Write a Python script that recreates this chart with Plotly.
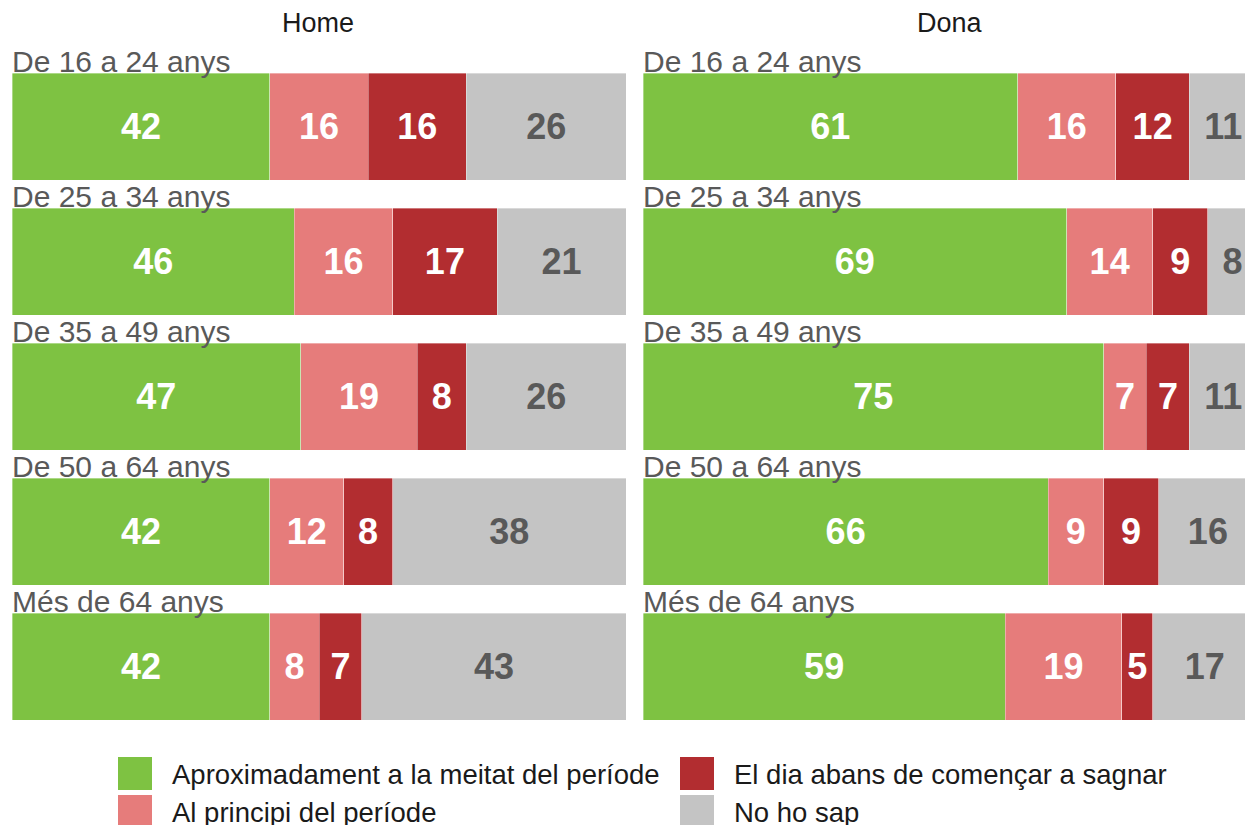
import plotly.graph_objects as go

ages = ["De 16 a 24 anys", "De 25 a 34 anys", "De 35 a 49 anys", "De 50 a 64 anys", "Més de 64 anys"]
panels = ["Home", "Dona"]
series = ["Aproximadament a la meitat del període", "Al principi del període",
          "El dia abans de començar a sagnar", "No ho sap"]
colors = ["#7EC242", "#E67C7B", "#B22D30", "#C4C4C4"]
text_colors = ["white", "white", "white", "#595959"]

home_meitat = [42, 46, 47, 42, 42]
home_principi = [16, 16, 19, 12, 8]
home_dia = [16, 17, 8, 8, 7]
home_nosap = [26, 21, 26, 38, 43]

dona_meitat = [61, 69, 75, 66, 59]
dona_principi = [16, 14, 7, 9, 19]
dona_dia = [12, 9, 7, 9, 5]
dona_nosap = [11, 8, 11, 16, 17]

data = {
    "Home": [home_meitat, home_principi, home_dia, home_nosap],
    "Dona": [dona_meitat, dona_principi, dona_dia, dona_nosap],
}

W, H = 1245, 825


def px(x):
    return x / W


def py(y):
    return 1 - y / H


LABEL_FONT = "Liberation Sans, Arial, sans-serif"
VALUE_FONT = "Liberation Sans, Arial, sans-serif"

fig = go.Figure()
axes = [("x", "y"), ("x2", "y2")]
for p, (xa, ya) in zip(panels, axes):
    for k, name in enumerate(series):
        vals = data[p][k]
        fig.add_trace(go.Bar(
            y=ages, x=vals, orientation="h", name=name,
            marker=dict(color=colors[k], line=dict(width=0.6, color="rgba(255,255,255,0.6)")),
            text=[str(v) for v in vals], textposition="inside", insidetextanchor="middle",
            textangle=0,
            textfont=dict(family=VALUE_FONT, size=36, color=text_colors[k], weight="bold"),
            width=107 / 135, xaxis=xa, yaxis=ya, showlegend=False,
            hoverinfo="skip", cliponaxis=True,
        ))

y_dom = [py(734), py(59)]
common_y = dict(domain=y_dom, categoryorder="array", categoryarray=ages,
                autorange="reversed", showticklabels=False, showgrid=False,
                zeroline=False, showline=False, ticks="")
unit = 614 / 100.0
fig.update_layout(
    width=W, height=H, margin=dict(l=0, r=0, t=0, b=0),
    paper_bgcolor="white", plot_bgcolor="white", barmode="stack",
    bargap=0,
    xaxis=dict(domain=[px(12), px(626)], range=[0, 100], visible=False, fixedrange=True),
    xaxis2=dict(domain=[px(643), 1.0], range=[0, (W - 643) / unit], visible=False,
                fixedrange=True),
    yaxis=dict(**common_y, anchor="x"),
    yaxis2=dict(**common_y, anchor="x2"),
    showlegend=False,
)

annotations = []
# facet titles
for p, cx in zip(panels, [318, 950]):
    annotations.append(dict(text=p, x=px(cx), y=py(23), xref="paper", yref="paper",
                            xanchor="center", yanchor="middle", showarrow=False,
                            font=dict(family=LABEL_FONT, size=27, color="#1A1A1A")))
# row labels
for (xa, ya) in axes:
    for i, a in enumerate(ages):
        annotations.append(dict(text=a, x=0, y=i - 0.5 * 107 / 135, xref=xa, yref=ya,
                                xanchor="left", yanchor="bottom", showarrow=False,
                                yshift=-7, xshift=-2,
                                font=dict(family=LABEL_FONT, size=30, color="#595959")))

# legend (custom, large swatches)
legend_order = [0, 2, 1, 3]
pos = [(118, 757), (680, 757), (118, 795), (680, 795)]
shapes = []
for idx, (lx, ly) in zip(legend_order, pos):
    shapes.append(dict(type="rect", xref="paper", yref="paper",
                       x0=px(lx), x1=px(lx + 34), y0=py(ly + 33), y1=py(ly),
                       fillcolor=colors[idx], line=dict(width=0)))
    annotations.append(dict(text=series[idx], x=px(lx + 52), y=py(ly + 17),
                            xref="paper", yref="paper", xanchor="left", yanchor="middle",
                            showarrow=False,
                            font=dict(family=LABEL_FONT, size=27.5, color="#1A1A1A")))

fig.update_layout(annotations=annotations, shapes=shapes)
fig.write_html(
    "out.html",
    config={"displayModeBar": False, "staticPlot": True},
    post_script="document.body.style.margin='0';document.body.style.overflow='hidden';",
)
